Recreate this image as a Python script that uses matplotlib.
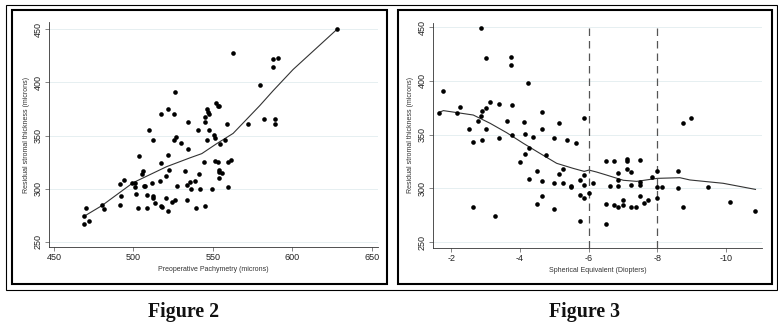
import numpy as np
import matplotlib
matplotlib.use("Agg")
import matplotlib.pyplot as plt
from matplotlib.patches import Rectangle

# Figure 2: preoperative pachymetry vs residual stromal thickness
pachy = [468.8, 468.8, 470.0, 471.8, 480.0, 481.8, 491.7, 494.0, 491.9, 491.7,
         499.0, 501.0, 501.0, 501.5, 502.8, 503.6, 505.5, 506.3, 506.5, 507.4,
         508.4, 508.4, 509.7, 511.5, 512.4, 512.6, 512.6, 513.7, 516.6, 517.4,
         517.6, 517.6, 517.8, 520.6, 520.6, 521.6, 521.6, 521.8, 522.4, 524.3,
         525.2, 525.4, 526.2, 526.4, 527.0, 527.5, 529.6, 532.3, 533.5, 534.4,
         534.6, 533.5, 535.8, 536.4, 538.5, 539.1, 540.5, 541.5, 541.7, 544.5,
         544.7, 545.3, 545.3, 546.0, 546.6, 547.3, 546.4, 547.7, 549.4, 550.4,
         551.5, 551.3, 551.7, 553.2, 553.8, 553.2, 553.6, 553.8, 555.4, 553.6,
         554.5, 557.8, 558.7, 559.5, 561.4, 559.7, 562.6, 572.1, 579.4, 582.1,
         588.0, 588.0, 591.1, 589.0, 589.0, 628.0]
rst2 = [274.1, 267.0, 282.0, 269.4, 285.0, 281.0, 304.5, 308.0, 293.2, 285.0,
        305.4, 305.7, 302.0, 295.4, 282.0, 330.4, 313.5, 316.3, 302.9, 302.9,
        294.4, 282.0, 355.5, 305.0, 345.5, 292.9, 291.0, 286.3, 307.3, 370.5,
        324.2, 284.1, 283.2, 312.3, 291.0, 374.6, 331.4, 279.4, 317.3, 287.6,
        346.1, 370.2, 390.5, 289.1, 348.9, 302.3, 343.3, 316.4, 303.2, 362.4,
        337.6, 289.4, 306.3, 300.1, 307.0, 281.6, 355.2, 313.8, 300.1, 325.1,
        284.1, 362.4, 367.0, 374.9, 371.8, 370.5, 345.8, 355.2, 300.1, 350.2,
        347.7, 325.8, 380.2, 378.0, 377.7, 325.1, 317.9, 315.7, 314.8, 310.4,
        342.1, 345.5, 361.1, 325.1, 326.7, 301.3, 427.5, 360.5, 397.1, 365.5,
        421.5, 414.6, 422.5, 365.5, 361.1, 449.7]
fit2_x = [468.8, 480.0, 499.8, 520.8, 535.5, 543.0, 552.0, 562.7, 579.4, 587.8, 600.4, 628.0]
fit2_y = [274.0, 284.0, 305.7, 320.7, 329.0, 333.0, 342.0, 352.0, 378.0, 392.0, 412.0, 449.7]

# Figure 3: spherical equivalent vs residual stromal thickness
se = [-1.65, -1.77, -2.16, -2.26, -2.51, -2.63, -2.63, -2.77, -2.87, -2.89,
      -2.87, -2.88, -3.01, -3.02, -3.02, -3.14, -3.26, -3.38, -3.39, -3.63,
      -3.75, -3.75, -3.76, -3.76, -4.00, -4.13, -4.14, -4.14, -4.24, -4.25,
      -4.25, -4.39, -4.50, -4.50, -4.63, -4.63, -4.63, -4.64, -4.75, -5.00,
      -5.00, -5.00, -5.13, -5.14, -5.25, -5.25, -5.37, -5.50, -5.50, -5.63,
      -5.75, -5.76, -5.76, -5.86, -5.86, -5.87, -5.87, -6.01, -6.13, -6.50,
      -6.50, -6.50, -6.63, -6.74, -6.75, -6.87, -6.87, -6.87, -6.87, -7.00,
      -7.00, -7.12, -7.12, -7.12, -7.23, -7.24, -7.24, -7.38, -7.50, -7.50,
      -7.50, -7.50, -7.62, -7.74, -7.86, -7.99, -7.99, -7.99, -8.13, -8.61,
      -8.61, -8.74, -8.74, -8.99, -9.49, -10.11, -10.85]
rst3 = [370.5, 390.4, 370.5, 375.5, 355.3, 343.5, 282.3, 362.7, 449.4, 372.4,
        367.7, 345.0, 421.4, 374.5, 355.3, 380.4, 274.2, 378.6, 346.6, 362.7,
        422.7, 414.6, 377.3, 349.7, 324.2, 361.5, 350.3, 331.7, 397.8, 337.6,
        308.7, 347.8, 316.5, 285.4, 371.4, 355.6, 306.5, 293.2, 330.7, 346.9,
        304.7, 281.0, 313.7, 360.6, 317.7, 305.0, 345.3, 301.9, 301.0, 342.5,
        307.5, 294.1, 269.6, 365.5, 312.7, 303.4, 291.3, 295.3, 305.0, 325.2,
        285.4, 267.1, 302.2, 325.2, 284.8, 314.3, 307.5, 302.2, 282.6, 289.1,
        284.8, 327.6, 325.8, 318.3, 315.2, 303.4, 282.3, 282.9, 326.1, 306.2,
        303.4, 293.2, 286.6, 289.1, 310.2, 316.5, 300.9, 291.0, 300.9, 316.5,
        300.6, 361.2, 282.3, 365.5, 301.6, 287.6, 279.2]
fit3_x = [-1.65, -1.77, -2.64, -3.13, -3.61, -4.10, -4.58, -5.07, -5.55, -5.87,
          -6.01, -6.23, -6.52, -7.01, -7.40, -8.00, -8.66, -8.95, -9.92, -10.86]
fit3_y = [370.8, 372.4, 368.3, 360.6, 351.9, 341.9, 332.6, 323.3, 318.6, 315.8,
          317.0, 315.2, 312.4, 307.5, 306.5, 309.3, 309.9, 307.8, 304.7, 299.0]
cutoffs = [-6, -8]

yticks = [250, 300, 350, 400, 450]

W, H = 778, 324
fig = plt.figure(figsize=(W / 100, H / 100), dpi=100)
fig.patch.set_facecolor("white")
plt.rcParams['font.family'] = ['Liberation Sans', 'DejaVu Sans']


def px_axes(left, top, right, bottom):
    return fig.add_axes([left / W, 1 - bottom / H, (right - left) / W, (bottom - top) / H])


def frame(x0, y0, x1, y1, lw, color="black"):
    fig.add_artist(Rectangle((x0 / W, 1 - y1 / H), (x1 - x0) / W, (y1 - y0) / H,
                             transform=fig.transFigure, fill=False, lw=lw, ec=color))


def style(ax, xlabel):
    for s in ["top", "right"]:
        ax.spines[s].set_visible(False)
    for s in ["left", "bottom"]:
        ax.spines[s].set_color("#333333")
        ax.spines[s].set_linewidth(0.6)
    ax.set_yticks(yticks)
    ax.set_yticklabels([str(t) for t in yticks], rotation=90, va="center")
    ax.tick_params(length=3, width=0.5, color="#555555", labelsize=6.5, pad=1.5,
                   labelcolor="#222222")
    ax.grid(axis="y", color="#e6eff1", lw=0.7)
    ax.set_axisbelow(True)
    ax.set_xlabel(xlabel, fontsize=5, color="#333333", labelpad=3)
    ax.set_ylabel("Residual stromal thickness (microns)", fontsize=5, color="#333333",
                  labelpad=3)


# outer frame and panel frames
frame(6, 5, 776.5, 289.5, 0.8)
frame(12, 10, 386.5, 283.5, 1.5)
frame(397.5, 10, 771.5, 283.5, 1.5)

ax1 = px_axes(49, 22, 378, 247)
ax1.scatter(pachy, rst2, s=11, color="black", zorder=3, linewidths=0)
ax1.plot(fit2_x, fit2_y, color="#333333", lw=0.8, zorder=2)
ax1.set_xlim(446.9, 653.8)
ax1.set_ylim(245.3, 456.6)
ax1.set_xticks([450, 500, 550, 600, 650])
style(ax1, "Preoperative Pachymetry (microns)")

ax2 = px_axes(433.3, 22.7, 762, 247.7)
ax2.scatter(se, rst3, s=11, color="black", zorder=3, linewidths=0)
ax2.plot(fit3_x, fit3_y, color="#333333", lw=0.8, zorder=2)
for c in cutoffs:
    ax2.axvline(c, color="#555555", lw=0.9, ls=(0, (6, 4)), zorder=2)
ax2.set_xlim(-1.476, -11.05)
ax2.set_ylim(244.7, 454.3)
ax2.set_xticks([-2, -4, -6, -8, -10])
ax2.set_xticklabels(["-2", "-4", "-6", "-8", "-10"])
style(ax2, "Spherical Equivalent (Diopters)")

fig.text(183.3 / W, 1 - 316.7 / H, "Figure 2", family="Liberation Serif", weight="bold",
         fontsize=14.3, ha="center", va="baseline", color="#111111")
fig.text(584.7 / W, 1 - 316.7 / H, "Figure 3", family="Liberation Serif", weight="bold",
         fontsize=14.3, ha="center", va="baseline", color="#111111")

fig.savefig("out.png", dpi=100)
